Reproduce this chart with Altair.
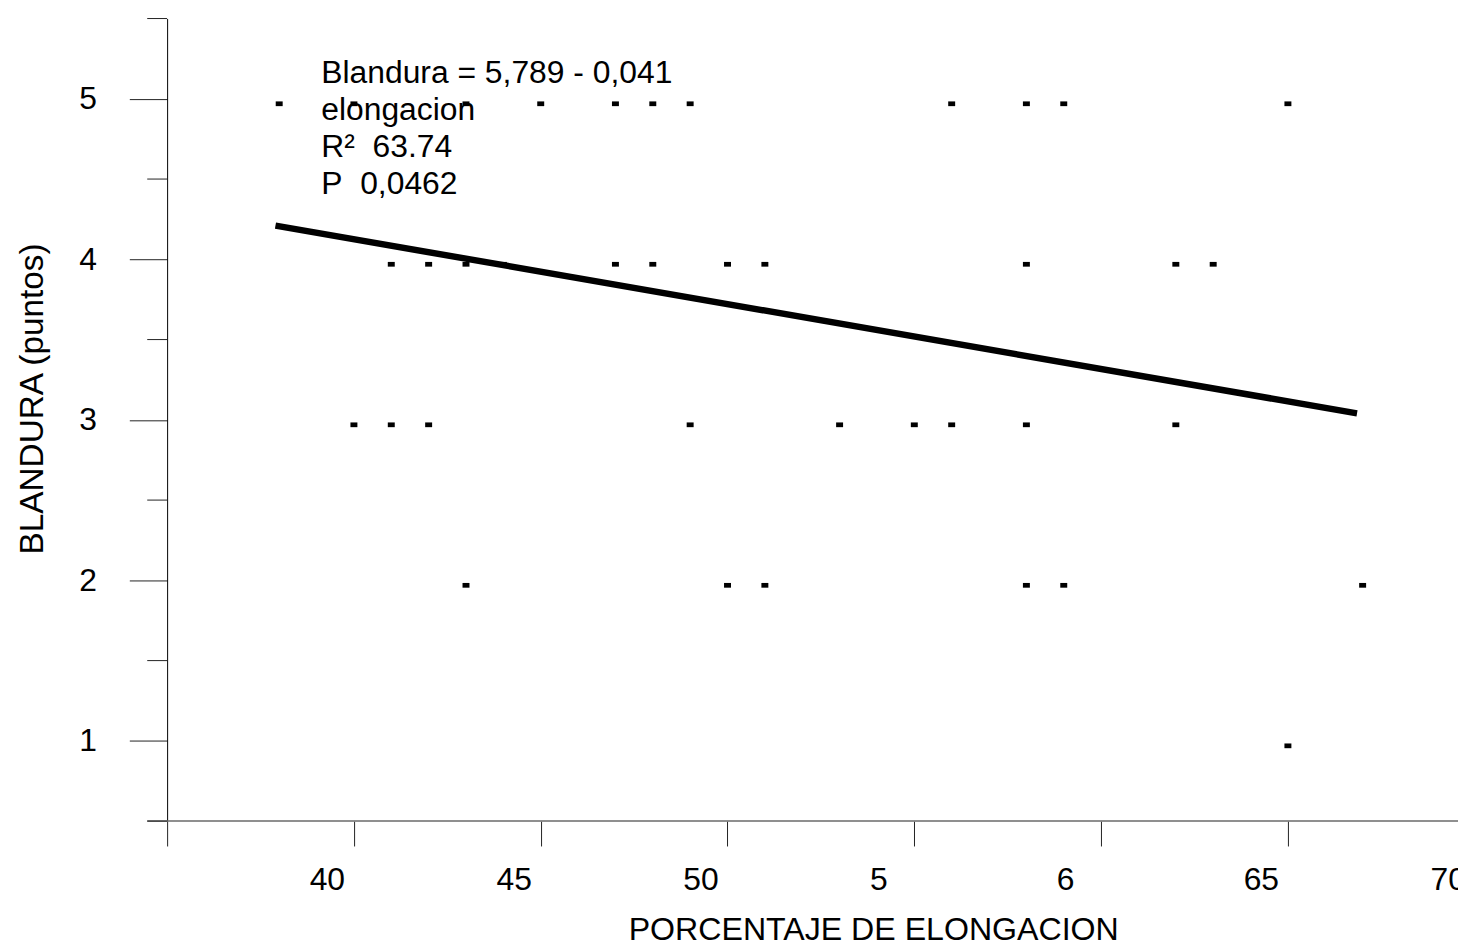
import altair as alt
import pandas as pd

# ---- data ----
elongacion = [38, 40, 43, 45, 47, 48, 49, 56, 58, 59, 65,
              41, 42, 43, 44, 47, 48, 50, 51, 58, 62, 63,
              40, 41, 42, 49, 53, 55, 56, 58, 62,
              43, 50, 51, 58, 59, 67,
              65]
blandura = [5, 5, 5, 5, 5, 5, 5, 5, 5, 5, 5,
            4, 4, 4, 4, 4, 4, 4, 4, 4, 4, 4,
            3, 3, 3, 3, 3, 3, 3, 3, 3,
            2, 2, 2, 2, 2, 2,
            1]

fit_x = [37.9, 66.85]
fit_y = [4.21, 3.04]

x_ticks = [35, 40, 45, 50, 55, 60, 65, 70]
x_tick_labels = ["", "40", "45", "50", "5", "6", "65", "70"]
y_major = [1, 2, 3, 4, 5]
y_minor = [0.5, 1.5, 2.5, 3.5, 4.5, 5.5]

NB = "\u00a0"
annotation_lines = ["Blandura = 5,789 - 0,041", "elongacion",
                    "R\u00b2" + NB + NB + "63.74", "P" + NB + NB + "0,0462"]

FONT = "Liberation Sans"
W, H = 1298, 807

pts = pd.DataFrame({"elong": elongacion, "bland": blandura})
fit = pd.DataFrame({"elong": fit_x, "bland": fit_y})
minor = pd.DataFrame({"elong": [35] * len(y_minor), "bland": y_minor})
one = pd.DataFrame({"a": [0]})

xscale = alt.Scale(domain=[35, 70], range=[0, 1314.8], nice=False, zero=False)
yscale = alt.Scale(domain=[0.5, 5.5], nice=False, zero=False)

label_expr = " : ".join(
    f"datum.value == {v} ? '{l}'" for v, l in zip(x_ticks, x_tick_labels)
) + " : ''"

x_axis = alt.Axis(
    values=x_ticks, labelExpr=label_expr, domain=False, grid=False,
    tickSize=25, tickColor="#222222", tickWidth=1,
    labelFont=FONT, labelFontSize=32, labelColor="black",
    labelAlign="left", labelOffset=-45, labelBaseline="alphabetic",
    labelPadding=44, labelFlush=False, labelOverlap=False,
    title="PORCENTAJE DE ELONGACION", titleFont=FONT, titleFontSize=32.3,
    titleFontWeight="normal", titleColor="black",
    titleX=710, titleY=119, titleAlign="center", titleBaseline="alphabetic",
)
y_axis = alt.Axis(
    values=y_major, format="d", grid=False,
    domain=True, domainColor="black", domainWidth=1,
    tickSize=38, tickColor="#222222", tickWidth=1,
    labelFont=FONT, labelFontSize=32, labelColor="black",
    labelPadding=33, labelBaseline="middle",
    title="BLANDURA (puntos)", titleFont=FONT, titleFontSize=33.5,
    titleFontWeight="normal", titleColor="black", titleAngle=270,
    titleX=-125, titleY=382, titleAlign="center", titleBaseline="alphabetic",
)

points = alt.Chart(pts).mark_point(
    shape="M-1,-0.68L1,-0.68L1,0.68L-1,0.68Z", filled=True, size=49,
    color="black", opacity=1, yOffset=5,
).encode(
    x=alt.X("elong:Q", scale=xscale, axis=x_axis),
    y=alt.Y("bland:Q", scale=yscale, axis=y_axis),
)

fit_line = alt.Chart(fit).mark_line(color="black", strokeWidth=6.5).encode(
    x=alt.X("elong:Q", scale=xscale),
    y=alt.Y("bland:Q", scale=yscale),
)

minor_ticks = alt.Chart(minor).mark_rule(color="#222222", strokeWidth=1).encode(
    y=alt.Y("bland:Q", scale=yscale),
    x=alt.value(-20), x2=alt.value(0),
)

x_line = alt.Chart(one).mark_rule(color="#6a6a6a", strokeWidth=1.5).encode(
    x=alt.value(-20), x2=alt.value(1320), y=alt.value(H),
)

annot = alt.Chart(one).mark_text(
    text=annotation_lines, align="left", baseline="alphabetic",
    font=FONT, fontSize=32, lineHeight=37, color="black",
).encode(x=alt.value(155), y=alt.value(65))

chart = alt.layer(x_line, minor_ticks, fit_line, points, annot).properties(
    width=W, height=H,
    padding={"left": 160, "top": 8, "right": 0, "bottom": 128},
    autosize=alt.AutoSizeParams(type="none"),
    background="white",
).configure_view(stroke=None)

chart.save("out.html", embed_options={"renderer": "svg", "actions": False})
